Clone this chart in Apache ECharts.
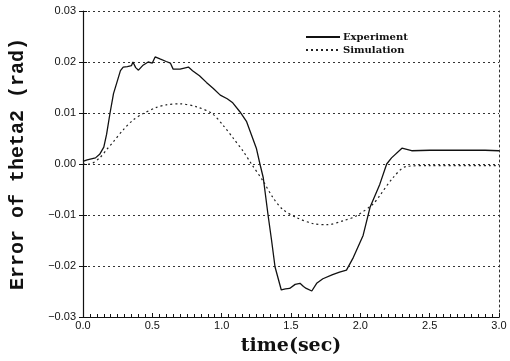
<!DOCTYPE html>
<html>
<head>
<meta charset="utf-8">
<script src="https://cdn.jsdelivr.net/npm/echarts@6/dist/echarts.min.js"></script>
<style>
html,body{margin:0;padding:0;background:#fff;}
#c{width:510px;height:361px;}
</style>
</head>
<body>
<div id="c"></div>
<script>
const expTime = [0, 0.03, 0.09, 0.12, 0.15, 0.17, 0.195, 0.22, 0.25, 0.27, 0.29, 0.32, 0.35, 0.36, 0.38, 0.40, 0.43, 0.47, 0.50, 0.52, 0.555, 0.60, 0.63, 0.65, 0.70, 0.73, 0.76, 0.79, 0.84, 0.89, 0.94, 0.99, 1.04, 1.08, 1.13, 1.18, 1.215, 1.25, 1.276, 1.30, 1.335, 1.36, 1.385, 1.43, 1.46, 1.49, 1.53, 1.565, 1.59, 1.61, 1.65, 1.685, 1.73, 1.80, 1.85, 1.90, 1.95, 2.02, 2.07, 2.14, 2.19, 2.225, 2.30, 2.37, 2.5, 2.7, 2.9, 3.0];
const expValue = [0.0005, 0.0008, 0.0012, 0.0019, 0.0033, 0.0058, 0.0100, 0.0138, 0.0165, 0.0183, 0.0190, 0.0191, 0.0193, 0.0200, 0.0189, 0.0184, 0.0193, 0.0200, 0.0198, 0.0210, 0.0206, 0.0201, 0.0198, 0.0186, 0.0186, 0.0188, 0.0190, 0.0183, 0.0173, 0.0160, 0.0148, 0.0135, 0.0128, 0.0120, 0.0103, 0.0083, 0.0057, 0.0031, 0.0000, -0.0027, -0.0101, -0.0150, -0.0202, -0.0247, -0.0245, -0.0244, -0.0236, -0.0234, -0.0240, -0.0244, -0.0249, -0.0234, -0.0225, -0.0217, -0.0212, -0.0208, -0.0183, -0.0140, -0.0085, -0.0040, 0.0000, 0.0012, 0.0031, 0.0026, 0.0027, 0.0027, 0.0027, 0.0026];
const simTime = [0, 0.05, 0.12, 0.17, 0.22, 0.29, 0.36, 0.435, 0.53, 0.60, 0.70, 0.82, 0.93, 1.01, 1.085, 1.155, 1.215, 1.30, 1.37, 1.44, 1.54, 1.66, 1.76, 1.88, 1.97, 2.09, 2.14, 2.235, 2.33, 2.5, 3.0];
const simValue = [0, 0.0, 0.0012, 0.0028, 0.0044, 0.0067, 0.0086, 0.0099, 0.0111, 0.0116, 0.0118, 0.0112, 0.0099, 0.0076, 0.0050, 0.0025, 0.0000, -0.0034, -0.0066, -0.0089, -0.0105, -0.0117, -0.0119, -0.0111, -0.0102, -0.0079, -0.0062, -0.0027, -0.0005, -0.0003, -0.0003];
const seriesNames = ['Experiment', 'Simulation'];
const xTitle = 'time(sec)';
const yTitle = 'Error of theta2 (rad)';

const pair = (t, v) => t.map((x, i) => [x, v[i]]);
const ink = '#111';
const dotted = { color: '#333', width: 1, type: [2, 3] };

const chart = echarts.init(document.getElementById('c'), null, { renderer: 'canvas' });
chart.setOption({
  animation: false,
  backgroundColor: '#fff',
  grid: { left: 83, right: 11, top: 11, bottom: 41 },
  legend: {
    data: seriesNames,
    orient: 'vertical',
    left: 300,
    top: 27,
    itemWidth: 34,
    itemHeight: 7,
    itemGap: 3,
    itemStyle: { opacity: 0 },
    textStyle: { fontFamily: 'DejaVu Serif', fontWeight: 'bold', fontSize: 10, color: ink, padding: [0, 0, 0, -2] }
  },
  xAxis: [{
    type: 'value', min: 0, max: 3, interval: 0.5,
    name: xTitle, nameLocation: 'middle', nameGap: 20,
    nameTextStyle: { fontFamily: 'DejaVu Serif', fontWeight: 'bold', fontSize: 19, color: ink },
    axisLine: { onZero: false, lineStyle: { color: ink, width: 1.2 } },
    axisTick: { inside: true, length: 4, lineStyle: { color: ink } },
    minorTick: { show: true, splitNumber: 10, length: 3, lineStyle: { color: ink } },
    axisLabel: { formatter: v => v.toFixed(1), fontFamily: 'Liberation Sans', fontSize: 11, color: ink, margin: 3 },
    splitLine: { show: false }
  }],
  yAxis: [{
    type: 'value', min: -0.03, max: 0.03, interval: 0.01,
    name: yTitle, nameLocation: 'middle', nameGap: 55,
    nameTextStyle: { fontFamily: 'Liberation Mono', fontWeight: 'bold', fontSize: 20, color: ink },
    axisLine: { onZero: false, lineStyle: { color: ink, width: 1.2 } },
    axisTick: { inside: false, length: 4, lineStyle: { color: ink } },
    axisLabel: { formatter: v => v.toFixed(2).replace('-', '\u2212'), fontFamily: 'Liberation Sans', fontSize: 11, color: ink, margin: 7 },
    splitLine: { show: true, lineStyle: dotted }
  }, {
    type: 'value', min: -0.03, max: 0.03, interval: 0.01, position: 'left',
    axisLine: { show: false },
    axisTick: { inside: true, length: 4, lineStyle: { color: ink } },
    axisLabel: { show: false },
    splitLine: { show: false }
  }, {
    type: 'value', min: -0.03, max: 0.03, interval: 0.01, position: 'right',
    axisLine: { show: true, lineStyle: dotted },
    axisTick: { show: false },
    axisLabel: { show: false },
    splitLine: { show: false }
  }],
  series: [{
    name: seriesNames[0], type: 'line', data: pair(expTime, expValue),
    showSymbol: false, symbol: 'none', smooth: false,
    lineStyle: { color: ink, width: 1.3 }, itemStyle: { color: ink }
  }, {
    name: seriesNames[1], type: 'line', data: pair(simTime, simValue),
    showSymbol: false, symbol: 'none', smooth: 0.3,
    lineStyle: { color: '#222', width: 1.2, type: [2, 3] }, itemStyle: { color: '#222' }
  }]
});
</script>
</body>
</html>
